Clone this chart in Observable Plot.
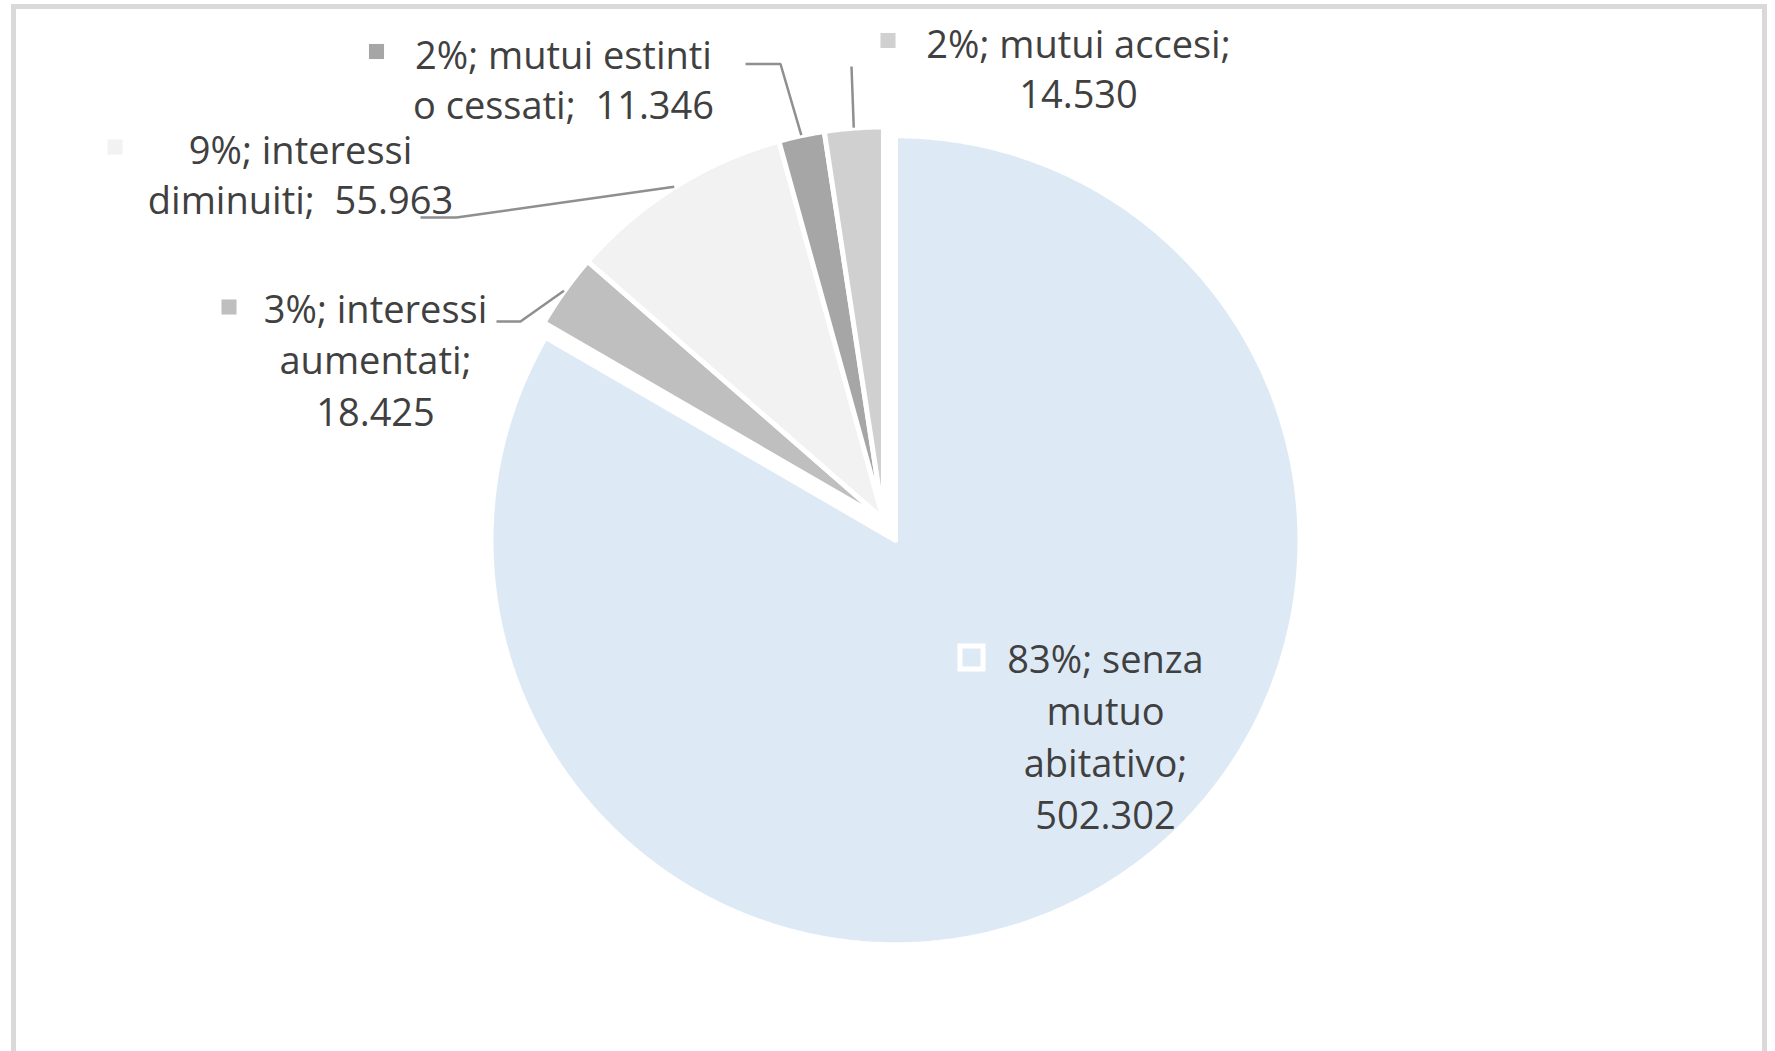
<!DOCTYPE html>
<html>
<head>
<meta charset="utf-8">
<script src="https://cdn.jsdelivr.net/npm/d3@7"></script>
<script src="https://cdn.jsdelivr.net/npm/@observablehq/plot@0.6"></script>
<style>
  html, body { margin: 0; padding: 0; background: #fff; overflow: hidden; }
  #wrap { position: relative; width: 1775px; height: 1051px; }
  #chart { position: absolute; left: 0; top: 0; }
  #frame { position: absolute; left: 11px; top: 4px; width: 1746px; height: 1100px;
           border: 5px solid #d9d9d9; pointer-events: none; }
</style>
</head>
<body>
<div id="wrap"><div id="chart"></div><div id="frame"></div></div>
<script>
// ---- data ----
const categories = ["senza mutuo abitativo", "interessi aumentati", "interessi diminuiti", "mutui estinti o cessati", "mutui accesi"];
const values = [502302, 18425, 55963, 11346, 14530];
const colors = ["#DDEAF6", "#BFBFBF", "#F2F2F2", "#A6A6A6", "#D0D0D0"];
// label line wrapping as in the original ({p} = percent, {v} = value)
const labelLines = [
  ["{p}%; senza", "mutuo", "abitativo;", "{v}"],
  ["{p}%; interessi", "aumentati;", "{v}"],
  ["{p}%; interessi", "diminuiti;  {v}"],
  ["{p}%; mutui estinti", "o cessati;  {v}"],
  ["{p}%; mutui accesi;", "{v}"]
];

// ---- layout (pixels) ----
const W = 1775, H = 1051;
const center = {x: 883, y: 519};
const radius = [404.5, 392.5, 392.5, 392.5, 392.5];
const explode = [24, 0, 0, 0, 0];
const labelPos = [
  {x: 1105, y: 660, dy: 52, kx: 971, ky: 657},
  {x: 375, y: 310, dy: 51.5, kx: 228.5, ky: 306.5},
  {x: 300, y: 151, dy: 50, kx: 114.5, ky: 146.5},
  {x: 563, y: 56, dy: 50, kx: 376, ky: 51},
  {x: 1078, y: 45, dy: 50, kx: 887.5, ky: 40}
];
const leaderStart = [
  null,
  [[496, 321], [520, 321]],
  [[420, 217], [456, 217]],
  [[745, 63.5], [780, 63.5]],
  [[851, 66]]
];

// ---- derived ----
const total = d3.sum(values);
const fmt = d3.formatLocale({decimal: ",", thousands: ".", grouping: [3], currency: ["€", ""]}).format(",d");
const pct = v => Math.round(v / total * 100);
const arcs = d3.pie().sort(null).value(d => d)(values);

const slicePoints = [];
const textRows = [];
const keyRows = [];
const leaderRows = [];
categories.forEach((name, i) => {
  const a = arcs[i];
  const m = (a.startAngle + a.endAngle) / 2;
  const ox = center.x + explode[i] * Math.sin(m);
  const oy = center.y - explode[i] * Math.cos(m);
  const r = radius[i];
  slicePoints.push({name, x: ox, y: oy});
  const n = Math.max(2, Math.ceil((a.endAngle - a.startAngle) / (Math.PI / 360)));
  for (let k = 0; k <= n; k++) {
    const t = a.startAngle + (a.endAngle - a.startAngle) * k / n;
    slicePoints.push({name, x: ox + r * Math.sin(t), y: oy - r * Math.cos(t)});
  }
  const L = labelPos[i];
  labelLines[i].forEach((tpl, j) => {
    textRows.push({name, x: L.x, y: L.y + j * L.dy,
      text: tpl.replace("{p}", pct(values[i])).replace("{v}", fmt(values[i]))});
  });
  keyRows.push({name, x: L.kx, y: L.ky, main: i === 0});
  if (leaderStart[i]) {
    leaderStart[i].forEach(([x, y]) => leaderRows.push({name, x, y}));
    const re = r + 0.5;
    leaderRows.push({name, x: ox + re * Math.sin(m), y: oy - re * Math.cos(m)});
  }
});

const chart = Plot.plot({
  width: W, height: H,
  margin: 0,
  x: {domain: [0, W], range: [0, W], axis: null},
  y: {domain: [0, H], range: [0, H], axis: null},
  color: {domain: categories, range: colors},
  style: {background: "transparent"},
  marks: [
    Plot.line(slicePoints, {x: "x", y: "y", z: "name", fill: "name", stroke: "white",
      strokeWidth: 5, strokeLinejoin: "round", curve: "linear-closed"}),
    Plot.line(leaderRows, {x: "x", y: "y", z: "name", stroke: "#8f8f8f", strokeWidth: 2.5,
      strokeLinejoin: "miter", strokeLinecap: "butt"}),
    Plot.dot(keyRows.filter(d => !d.main), {x: "x", y: "y", fill: "name", symbol: "square", r: 8.5, stroke: "none"}),
    Plot.dot(keyRows.filter(d => d.main), {x: "x", y: "y", fill: "name", symbol: "square", r: 13, stroke: "white", strokeWidth: 5}),
    Plot.text(textRows, {x: "x", y: "y", text: "text", fill: "#404040", fontSize: 38,
      fontFamily: "'Open Sans', sans-serif", textAnchor: "middle"})
  ]
});
document.getElementById("chart").appendChild(chart);
</script>
</body>
</html>
